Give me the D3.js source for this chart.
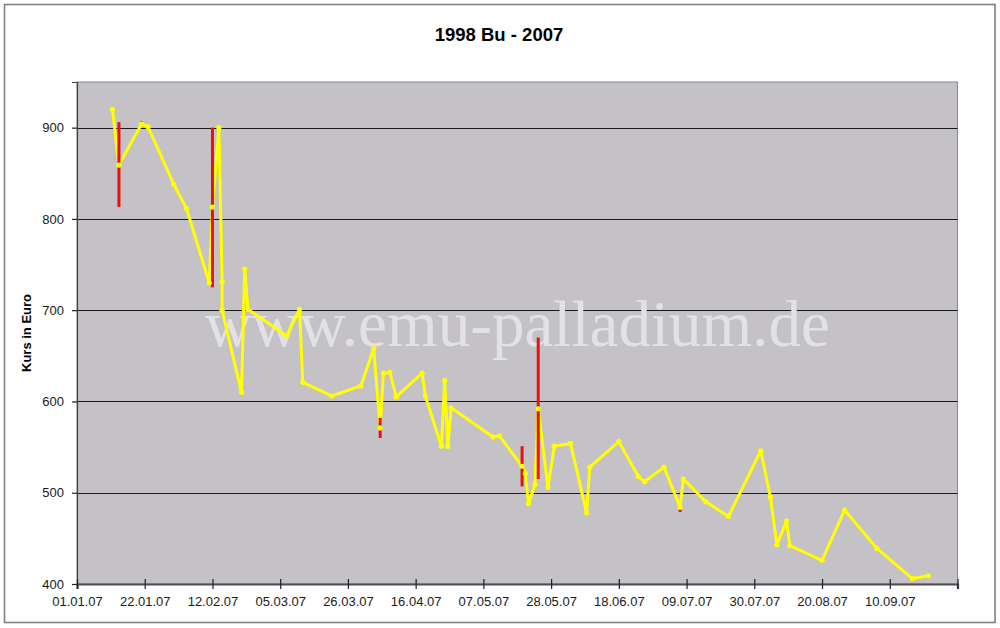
<!DOCTYPE html>
<html>
<head>
<meta charset="utf-8">
<script src="https://cdn.jsdelivr.net/npm/d3@7"></script>
<style>
  html, body { margin: 0; padding: 0; background: #ffffff; }
  svg { display: block; }
</style>
</head>
<body>
<svg id="chart" width="1000" height="628"></svg>
<script>
// ---- data ----
const title = "1998 Bu - 2007";
const yAxisTitle = "Kurs in Euro";
const watermark = "www.emu-palladium.de";

const priceDates = [
  "2007-01-12", "2007-01-14", "2007-01-21", "2007-01-23", "2007-01-31", "2007-02-04",
  "2007-02-11", "2007-02-12", "2007-02-14", "2007-02-15", "2007-02-15", "2007-02-21",
  "2007-02-22", "2007-02-23", "2007-03-07", "2007-03-11", "2007-03-12", "2007-03-21",
  "2007-03-30", "2007-04-03", "2007-04-05", "2007-04-06", "2007-04-08", "2007-04-10",
  "2007-04-18", "2007-04-19", "2007-04-24", "2007-04-25", "2007-04-26", "2007-04-27",
  "2007-05-10", "2007-05-12", "2007-05-19", "2007-05-20", "2007-05-21", "2007-05-23",
  "2007-05-24", "2007-05-27", "2007-05-29", "2007-06-03", "2007-06-08", "2007-06-09",
  "2007-06-18", "2007-06-24", "2007-06-26", "2007-07-02", "2007-07-07", "2007-07-08",
  "2007-07-15", "2007-07-22", "2007-08-01", "2007-08-04", "2007-08-06", "2007-08-09",
  "2007-08-10", "2007-08-20", "2007-08-27", "2007-09-06", "2007-09-17", "2007-09-22"
];
const priceValues = [
  920, 859, 904, 901, 838, 811,
  730, 813, 900, 731, 700, 610,
  745, 701, 672, 701, 621, 606,
  617, 658, 571, 631, 632, 605,
  631, 606, 551, 623, 551, 593,
  561, 562, 529, 521, 488, 509,
  592, 506, 551, 554, 478, 528,
  556, 518, 512, 528, 484, 515,
  490, 474, 546, 495, 443, 469,
  442, 426, 481, 439, 406, 409
];

// red high-low ranges
const rangeDates = ["2007-01-14", "2007-01-21", "2007-02-12", "2007-04-05", "2007-05-19", "2007-05-24", "2007-07-07"];
const rangeLow   = [813, 903, 725, 560, 507, 515, 479];
const rangeHigh  = [906, 907, 900, 582, 551, 670, 483];

const xTickDates = [
  "2007-01-01", "2007-01-22", "2007-02-12", "2007-03-05", "2007-03-26", "2007-04-16", "2007-05-07",
  "2007-05-28", "2007-06-18", "2007-07-09", "2007-07-30", "2007-08-20", "2007-09-10", "2007-10-01"
];
const xTickLabels = [
  "01.01.07", "22.01.07", "12.02.07", "05.03.07", "26.03.07", "16.04.07", "07.05.07",
  "28.05.07", "18.06.07", "09.07.07", "30.07.07", "20.08.07", "10.09.07", ""
];
const yTicks = [400, 500, 600, 700, 800, 900];
const yDomain = [400, 950];

// ---- drawing ----
const parse = d3.utcParse("%Y-%m-%d");
const svg = d3.select("#chart");
const plot = { left: 77, right: 957.5, top: 82, bottom: 584 };

const x = d3.scaleUtc()
  .domain([parse(xTickDates[0]), parse(xTickDates[xTickDates.length - 1])])
  .range([plot.left, plot.right]);
const y = d3.scaleLinear().domain(yDomain).range([plot.bottom, plot.top]);

// outer chart border
svg.append("rect")
  .attr("x", 4.5).attr("y", 4.5).attr("width", 990.5).attr("height", 618)
  .attr("fill", "#ffffff").attr("stroke", "#808080").attr("stroke-width", 1.6);

// title
svg.append("text")
  .attr("x", 499).attr("y", 41)
  .attr("text-anchor", "middle")
  .attr("font-family", "'Liberation Sans', Arial, sans-serif")
  .attr("font-weight", "bold").attr("font-size", 18.5)
  .attr("fill", "#000").text(title);

// plot background
svg.append("rect")
  .attr("x", plot.left).attr("y", plot.top)
  .attr("width", plot.right - plot.left).attr("height", plot.bottom - plot.top)
  .attr("fill", "#c4c2c6").attr("stroke", "#8a8a8a").attr("stroke-width", 1);

// gridlines
svg.append("g").selectAll("line")
  .data(yTicks.filter(v => v > yDomain[0]))
  .join("line")
  .attr("x1", plot.left).attr("x2", plot.right)
  .attr("y1", d => Math.round(y(d)) + 0.5).attr("y2", d => Math.round(y(d)) + 0.5)
  .attr("stroke", "#1a1a1a").attr("stroke-width", 1.2);

// watermark
svg.append("text")
  .attr("x", 205).attr("y", 346)
  .attr("font-family", "'Liberation Serif', 'Times New Roman', serif")
  .attr("font-size", 66)
  .attr("textLength", 625).attr("lengthAdjust", "spacingAndGlyphs")
  .attr("fill", "#e2e1e4")
  .text(watermark);

// y axis
const yAxis = d3.axisLeft(y).tickValues(yTicks).tickSize(5).tickPadding(8).tickFormat(d3.format("d"));
const gy = svg.append("g").attr("transform", `translate(${plot.left},0)`).call(yAxis);
gy.select(".domain").attr("stroke", "#404040").attr("stroke-width", 1.2);
gy.selectAll(".tick line").attr("stroke", "#202020").attr("stroke-width", 1.2).attr("x2", -5).attr("x1", 0);
gy.selectAll(".tick text")
  .attr("font-family", "'Liberation Sans', Arial, sans-serif")
  .attr("font-size", 13).attr("fill", "#1a1a1a");

// x axis
const xAxis = d3.axisBottom(x)
  .tickValues(xTickDates.map(parse))
  .tickSize(5).tickPadding(8)
  .tickFormat((d, i) => xTickLabels[i]);
const gx = svg.append("g").attr("transform", `translate(0,${plot.bottom})`).call(xAxis);
gx.select(".domain").attr("stroke", "#505050").attr("stroke-width", 2.2);
gx.selectAll(".tick line").attr("stroke", "#202020").attr("stroke-width", 1.2).attr("y1", -5).attr("y2", 5);
gx.selectAll(".tick text")
  .attr("font-family", "'Liberation Sans', Arial, sans-serif")
  .attr("font-size", 13).attr("fill", "#1a1a1a");

// y axis title
svg.append("text")
  .attr("transform", `translate(31,${(plot.top + plot.bottom) / 2}) rotate(-90)`)
  .attr("text-anchor", "middle")
  .attr("font-family", "'Liberation Sans', Arial, sans-serif")
  .attr("font-weight", "bold").attr("font-size", 13)
  .attr("fill", "#000").text(yAxisTitle);

// yellow price line
const points = priceDates.map((d, i) => ({ date: parse(d), value: priceValues[i] }));
const line = d3.line().x(d => x(d.date)).y(d => y(d.value));
svg.append("path")
  .datum(points)
  .attr("d", line)
  .attr("fill", "none").attr("stroke", "#ffff00")
  .attr("stroke-width", 3).attr("stroke-linejoin", "round");

// red ranges
const ranges = rangeDates.map((d, i) => ({ date: parse(d), low: rangeLow[i], high: rangeHigh[i] }));
svg.append("g").selectAll("line")
  .data(ranges)
  .join("line")
  .attr("x1", d => x(d.date)).attr("x2", d => x(d.date))
  .attr("y1", d => y(d.low)).attr("y2", d => y(d.high))
  .attr("stroke", "#e81010").attr("stroke-width", 3);

// markers
svg.append("g").selectAll("circle")
  .data(points)
  .join("circle")
  .attr("cx", d => x(d.date)).attr("cy", d => y(d.value))
  .attr("r", 2.6).attr("fill", "#ffff00");
</script>
</body>
</html>
